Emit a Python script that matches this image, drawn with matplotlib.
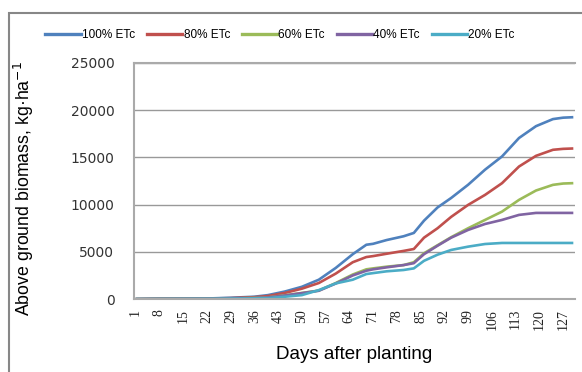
import matplotlib.pyplot as plt
from matplotlib.lines import Line2D
from matplotlib.patches import Rectangle

# Simulated above-ground biomass for five irrigation levels
days = [1, 8, 15, 22, 29, 36, 40, 45, 50, 55, 60, 65, 69, 71, 75, 80,
        83, 86, 90, 94, 99, 104, 109, 114, 119, 124, 127, 130]
etc100 = [0, 30, 40, 60, 140, 250, 420, 800, 1300, 2050, 3300, 4750, 5750, 5850,
          6250, 6650, 7000, 8300, 9700, 10700, 12100, 13700, 15100, 17050,
          18300, 19050, 19200, 19250]
etc80 = [0, 30, 40, 60, 100, 200, 320, 650, 1100, 1700, 2700, 3900, 4450, 4550,
         4800, 5100, 5300, 6500, 7500, 8700, 9970, 11030, 12270, 14030,
         15160, 15800, 15900, 15940]
etc60 = [0, 20, 30, 40, 60, 120, 180, 400, 650, 900, 1700, 2600, 3150, 3250,
         3430, 3600, 3900, 4850, 5700, 6550, 7500, 8380, 9260, 10500,
         11490, 12090, 12230, 12270]
etc40 = [0, 20, 30, 40, 60, 110, 170, 380, 630, 880, 1650, 2500, 3000, 3150,
         3360, 3600, 3800, 4750, 5650, 6500, 7320, 7950, 8380, 8910,
         9120, 9120, 9120, 9120]
etc20 = [0, 10, 20, 30, 50, 80, 100, 250, 420, 950, 1660, 2050, 2650, 2750,
         2940, 3080, 3250, 4050, 4700, 5200, 5550, 5830, 5940, 5940,
         5940, 5940, 5940, 5940]

labels = ['100% ETc', '80% ETc', '60% ETc', '40% ETc', '20% ETc']
colors = ['#4F81BD', '#C0504D', '#9BBB59', '#8064A2', '#4BACC6']
series = [etc100, etc80, etc60, etc40, etc20]
xticks = list(range(1, 131, 7))

fig = plt.figure(figsize=(5.82, 3.72), dpi=100)
ax = fig.add_axes([0.230, 0.196, 0.758, 0.635])

# outer chart border (runs off the right and bottom edges)
fig.patches.append(Rectangle((9 / 582, -0.05), 1.2, 1 - 13 / 372 + 0.05,
                             transform=fig.transFigure, fill=False,
                             edgecolor='#878787', linewidth=1.5))

for vals, c in zip(series, colors):
    ax.plot(days, vals, color=c, linewidth=1.9, solid_capstyle='butt')

ax.set_xlim(0.5, 130.5)
ax.set_ylim(0, 25000)
ax.set_yticks(range(0, 25001, 5000))
ax.set_xticks(xticks)
ax.set_xticklabels([str(d) for d in xticks], rotation=90,
                   family='Liberation Serif', fontsize=10, color='#222222')
for t in ax.get_yticklabels():
    t.set_fontsize(10)
    t.set_color('#333333')
ax.tick_params(axis='x', length=0, pad=7)
ax.tick_params(axis='y', length=0, pad=14)

ax.grid(axis='y', color='#999999', linewidth=1.0)
ax.set_axisbelow(True)
for s in ['top', 'right']:
    ax.spines[s].set_visible(False)
ax.spines['left'].set_color('#aaaaaa')
ax.spines['left'].set_linewidth(1.5)
ax.spines['bottom'].set_color('#aaaaaa')
ax.spines['bottom'].set_linewidth(1.5)
ax.plot([0, 1], [1, 1], transform=ax.transAxes, color='#aaaaaa',
        linewidth=1.5, clip_on=False)

ax.set_xlabel('Days after planting', family='Liberation Sans', fontsize=13.5,
              labelpad=12)
ax.set_ylabel('Above ground biomass, kg\u00b7ha$^{\u22121}$', family='Liberation Sans',
              fontsize=12.8)
ax.yaxis.set_label_coords(-0.222, 0.47)

handles = [Line2D([], [], color=c, linewidth=2.4) for c in colors]
fig.legend(handles, labels, loc='center', bbox_to_anchor=(0.481, 0.905), ncol=5,
           frameon=False, handlelength=3.0, handletextpad=0.1,
           columnspacing=1.0, prop={'family': 'Liberation Sans', 'size': 8.5})

fig.savefig('out.png', dpi=100)
